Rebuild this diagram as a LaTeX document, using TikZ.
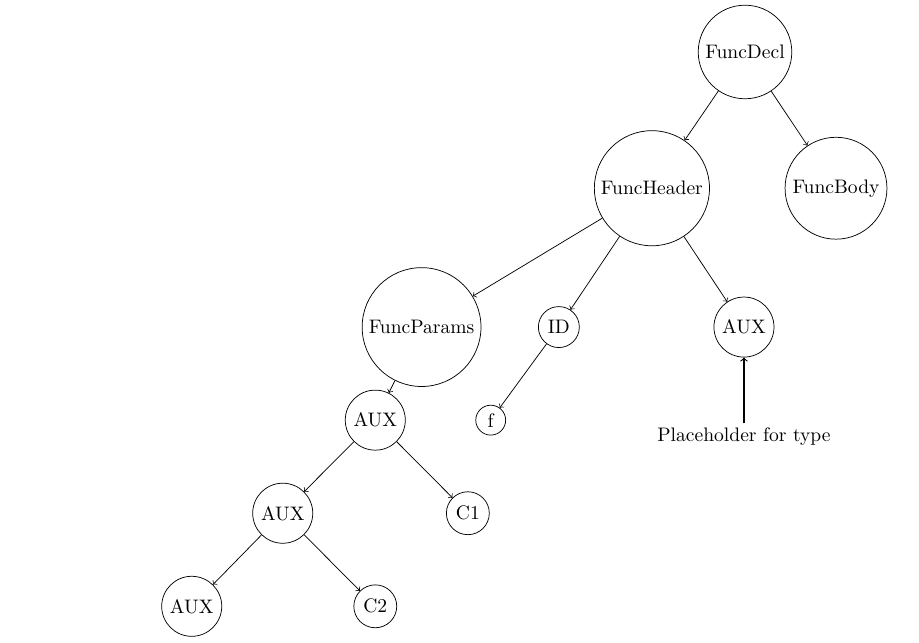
\documentclass[tikz,border=0pt]{standalone}
\usepackage{tikz}
\usetikzlibrary{positioning}

\begin{document}
\begin{tikzpicture}[
  font=\fontsize{10.7}{13}\selectfont,
  bubble/.style={circle,draw,inner sep=3pt},
  note/.style={inner sep=2pt},
  arr/.style={->},
  node distance=1.79cm and 1.78cm,
  on grid
]
\useasboundingbox (0,0) rectangle (17.673,12.365);
\node[bubble] (decl) at (14.327,11.365) {FuncDecl};
\node[bubble, below left=2.62cm and 1.79cm of decl] (header) {FuncHeader};
\node[bubble, below right=2.62cm and 1.75cm of decl] (body) {FuncBody};
\node[bubble, below left=2.67cm and 4.43cm of header] (params) {FuncParams};
\node[bubble, below left=2.67cm and 1.79cm of header] (id) {ID};
\node[bubble, below right=2.67cm and 1.77cm of header] (aux) {AUX};
\node[bubble, below left=1.79cm and 0.89cm of params] (auxa) {AUX};
\node[bubble, below left=1.79cm and 1.31cm of id] (f) {f};
\node[note, below=2.1cm of aux] (hole) {Placeholder for type};
\node[bubble, below left=of auxa] (auxb) {AUX};
\node[bubble, below right=of auxa] (ca) {C1};
\node[bubble, below left=1.79cm and 1.75cm of auxb] (auxc) {AUX};
\node[bubble, below right=of auxb] (cb) {C2};
\draw[arr] (decl) -- (header);
\draw[arr] (decl) -- (body);
\draw[arr] (header) -- (params);
\draw[arr] (header) -- (id);
\draw[arr] (header) -- (aux);
\draw[arr] (params) -- (auxa);
\draw[arr] (id) -- (f);
\draw[arr,semithick] (hole) -- (aux);
\draw[arr] (auxa) -- (auxb);
\draw[arr] (auxa) -- (ca);
\draw[arr] (auxb) -- (auxc);
\draw[arr] (auxb) -- (cb);
\end{tikzpicture}
\end{document}
